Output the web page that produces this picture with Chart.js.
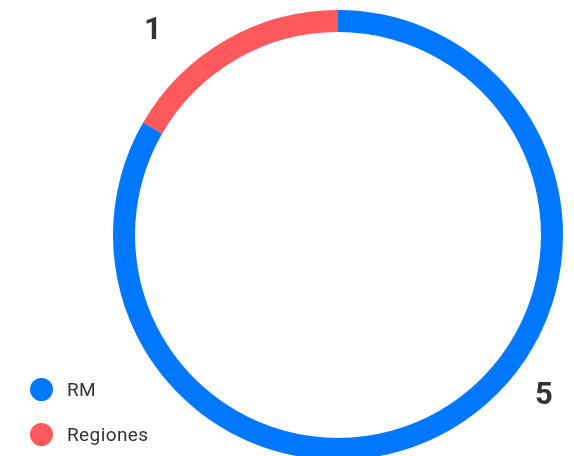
<!DOCTYPE html>
<html>
<head>
<meta charset="utf-8">
<script src="https://cdn.jsdelivr.net/npm/chart.js@4"></script>
<style>
  html, body { margin: 0; padding: 0; background: #fff; }
  #wrap { position: relative; width: 574px; height: 456px; overflow: hidden; }
  #box { position: absolute; left: 0; top: 0; width: 574px; height: 470px; }
  #legend { position: absolute; left: 30px; top: 378px; font-family: Roboto, "DejaVu Sans", sans-serif; font-size: 19px; letter-spacing: 0.4px; color: #333; }
  #legend .item { display: flex; align-items: center; height: 23px; margin-bottom: 22px; }
  #legend .dot { width: 23px; height: 23px; border-radius: 50%; margin-right: 14px; }
</style>
</head>
<body>
<div id="wrap">
  <div id="box"><canvas id="chart"></canvas></div>
  <div id="legend"></div>
</div>
<script>
// Categories and values
const categories = ["RM", "Regiones"];
const values = [5, 1];
const colors = ["#0077FF", "#FF585D"];

// Value labels placed outside the ring: [angle shift in degrees, distance as a multiple of the outer radius]
const labelPlacement = [[-22.5, 1.154], [-11.8, 1.234]];

const outsideLabels = {
  id: "outsideLabels",
  afterDatasetsDraw(chart) {
    const ctx = chart.ctx;
    const meta = chart.getDatasetMeta(0);
    ctx.save();
    ctx.font = "bold 31px Roboto, 'DejaVu Sans', sans-serif";
    ctx.fillStyle = "#333333";
    ctx.textAlign = "center";
    ctx.textBaseline = "middle";
    meta.data.forEach((arc, i) => {
      const p = arc.getProps(["x", "y", "startAngle", "endAngle", "outerRadius"], true);
      const mid = (p.startAngle + p.endAngle) / 2 + labelPlacement[i][0] * Math.PI / 180;
      const r = p.outerRadius * labelPlacement[i][1];
      ctx.fillText(String(values[i]), p.x + Math.cos(mid) * r, p.y + Math.sin(mid) * r + 3);
    });
    ctx.restore();
  }
};

new Chart(document.getElementById("chart"), {
  type: "doughnut",
  data: {
    labels: categories,
    datasets: [{
      data: values,
      backgroundColor: colors,
      borderWidth: 0,
      hoverOffset: 0
    }]
  },
  options: {
    responsive: true,
    maintainAspectRatio: false,
    animation: false,
    cutout: "90.2%",
    layout: { padding: { left: 113, right: 11, top: 10, bottom: 10 } },
    plugins: {
      legend: { display: false },
      tooltip: { enabled: false }
    }
  },
  plugins: [outsideLabels]
});

// Legend built from the same categories and colours
const legend = document.getElementById("legend");
categories.forEach((name, i) => {
  const item = document.createElement("div");
  item.className = "item";
  const dot = document.createElement("span");
  dot.className = "dot";
  dot.style.background = colors[i];
  const txt = document.createElement("span");
  txt.textContent = name;
  item.appendChild(dot);
  item.appendChild(txt);
  legend.appendChild(item);
});
</script>
</body>
</html>
